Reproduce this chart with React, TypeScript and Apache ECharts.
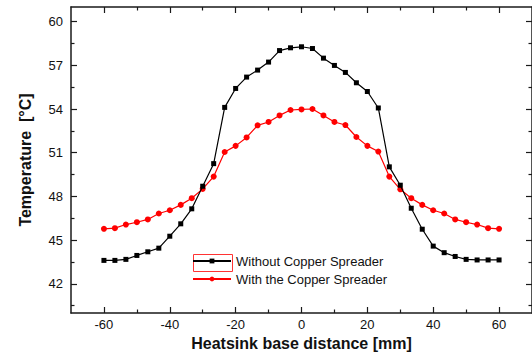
import React, { useEffect, useRef } from "react";
import * as echarts from "echarts";

const distance = [
  -60, -56.67, -53.33, -50, -46.67, -43.33, -40, -36.67, -33.33, -30, -26.67, -23.33,
  -20, -16.67, -13.33, -10, -6.67, -3.33, 0, 3.33, 6.67, 10, 13.33, 16.67, 20, 23.33,
  26.67, 30, 33.33, 36.67, 40, 43.33, 46.67, 50, 53.33, 56.67, 60,
];

const withoutSpreader = [
  43.61, 43.61, 43.68, 43.95, 44.2, 44.45, 45.27, 46.12, 47.15, 48.7, 50.25, 54.11,
  55.41, 56.19, 56.67, 57.22, 58.01, 58.2, 58.27, 58.15, 57.49, 56.99, 56.51, 55.8, 55.2,
  54.07, 50.03, 48.77, 47.19, 45.75, 44.59, 44.14, 43.88, 43.68, 43.64, 43.64, 43.64,
];

const withSpreader = [
  45.78, 45.82, 46.07, 46.23, 46.42, 46.83, 47.05, 47.42, 47.88, 48.52, 49.36, 51.05,
  51.47, 52.05, 52.88, 53.11, 53.56, 53.93, 53.97, 54.0, 53.56, 53.11, 52.9, 52.08, 51.47,
  51.08, 49.36, 48.49, 47.88, 47.42, 47.05, 46.83, 46.42, 46.23, 46.07, 45.82, 45.78,
];

const xMajorTicks = [-60, -40, -20, 0, 20, 40, 60];
const xMinorTicks = [-50, -30, -10, 10, 30, 50];
const yMajorTicks = [42, 45, 48, 51, 54, 57, 60];
const yMinorTicks = [40.5, 43.5, 46.5, 49.5, 52.5, 55.5, 58.5];

const seriesNames = ["Without Copper Spreader", "With the Copper Spreader"];

const FONT = "'Liberation Sans', Arial, sans-serif";
const AXIS_COLOR = "#1a1a1a";

export default function App() {
  const ref = useRef<HTMLDivElement>(null);

  useEffect(() => {
    if (!ref.current) return;
    const chart = echarts.init(ref.current, undefined, { renderer: "svg" });

    const makeX = (pos: "bottom" | "top", ticks: number[], len: number, main: boolean) => ({
      type: "value",
      min: -70,
      max: 70,
      position: pos,
      axisLine: { show: main, onZero: false, lineStyle: { color: AXIS_COLOR, width: 1.5 } },
      axisTick: {
        show: true,
        inside: true,
        length: len,
        customValues: ticks,
        lineStyle: { color: AXIS_COLOR, width: 1.2 },
      },
      axisLabel:
        main && pos === "bottom"
          ? {
              show: true,
              customValues: xMajorTicks,
              color: "#111",
              fontFamily: FONT,
              fontSize: 13,
              margin: 5,
            }
          : { show: false },
      splitLine: { show: false },
      ...(main && pos === "bottom"
        ? {
            name: "Heatsink base distance [mm]",
            nameLocation: "middle",
            nameGap: 22,
            nameTextStyle: { fontFamily: FONT, fontSize: 16, fontWeight: "bold", color: "#111" },
          }
        : {}),
    });

    const makeY = (pos: "left" | "right", ticks: number[], len: number, main: boolean) => ({
      type: "value",
      min: 40,
      max: 61,
      position: pos,
      axisLine: { show: main, onZero: false, lineStyle: { color: AXIS_COLOR, width: 1.5 } },
      axisTick: {
        show: true,
        inside: true,
        length: len,
        customValues: ticks,
        lineStyle: { color: AXIS_COLOR, width: 1.2 },
      },
      axisLabel:
        main && pos === "left"
          ? {
              show: true,
              customValues: yMajorTicks,
              color: "#111",
              fontFamily: FONT,
              fontSize: 13,
              margin: 8,
            }
          : { show: false },
      splitLine: { show: false },
      ...(main && pos === "left"
        ? {
            name: "Temperature  [°C]",
            nameLocation: "middle",
            nameGap: 38,
            nameTextStyle: { fontFamily: FONT, fontSize: 16, fontWeight: "bold", color: "#111" },
          }
        : {}),
    });

    chart.setOption({
      animation: false,
      backgroundColor: "#ffffff",
      grid: { left: 71, top: 7, width: 465, height: 306, containLabel: false },
      xAxis: [
        makeX("bottom", xMajorTicks, 6, true),
        makeX("bottom", xMinorTicks, 3.5, false),
        makeX("top", xMajorTicks, 6, true),
        makeX("top", xMinorTicks, 3.5, false),
      ],
      yAxis: [
        makeY("left", yMajorTicks, 6, true),
        makeY("left", yMinorTicks, 3.5, false),
        makeY("right", yMajorTicks, 6, true),
        makeY("right", yMinorTicks, 3.5, false),
      ],
      legend: {
        show: true,
        orient: "vertical",
        left: 192,
        top: 254,
        itemWidth: 38,
        itemHeight: 6,
        itemGap: 4,
        padding: 0,
        textStyle: { fontFamily: FONT, fontSize: 13, color: "#111", lineHeight: 14 },
        data: seriesNames,
      },
      graphic: [
        {
          type: "rect",
          left: 191,
          top: 252,
          shape: { width: 39, height: 17 },
          style: { fill: "none", stroke: "#ff3333", lineWidth: 1 },
          silent: true,
        },
      ],
      series: [
        {
          name: seriesNames[0],
          type: "line",
          xAxisIndex: 0,
          yAxisIndex: 0,
          data: distance.map((d, i) => [d, withoutSpreader[i]]),
          symbol: "rect",
          symbolSize: 5,
          itemStyle: { color: "#000000" },
          lineStyle: { color: "#000000", width: 1.2 },
          z: 3,
        },
        {
          name: seriesNames[1],
          type: "line",
          xAxisIndex: 0,
          yAxisIndex: 0,
          data: distance.map((d, i) => [d, withSpreader[i]]),
          symbol: "circle",
          symbolSize: 6,
          itemStyle: { color: "#ff0000" },
          lineStyle: { color: "#ff0000", width: 1.2 },
          z: 2,
        },
      ],
    });

    return () => chart.dispose();
  }, []);

  return (
    <div
      ref={ref}
      style={{ position: "fixed", left: 0, top: 0, width: 532, height: 358, background: "#fff" }}
    />
  );
}
